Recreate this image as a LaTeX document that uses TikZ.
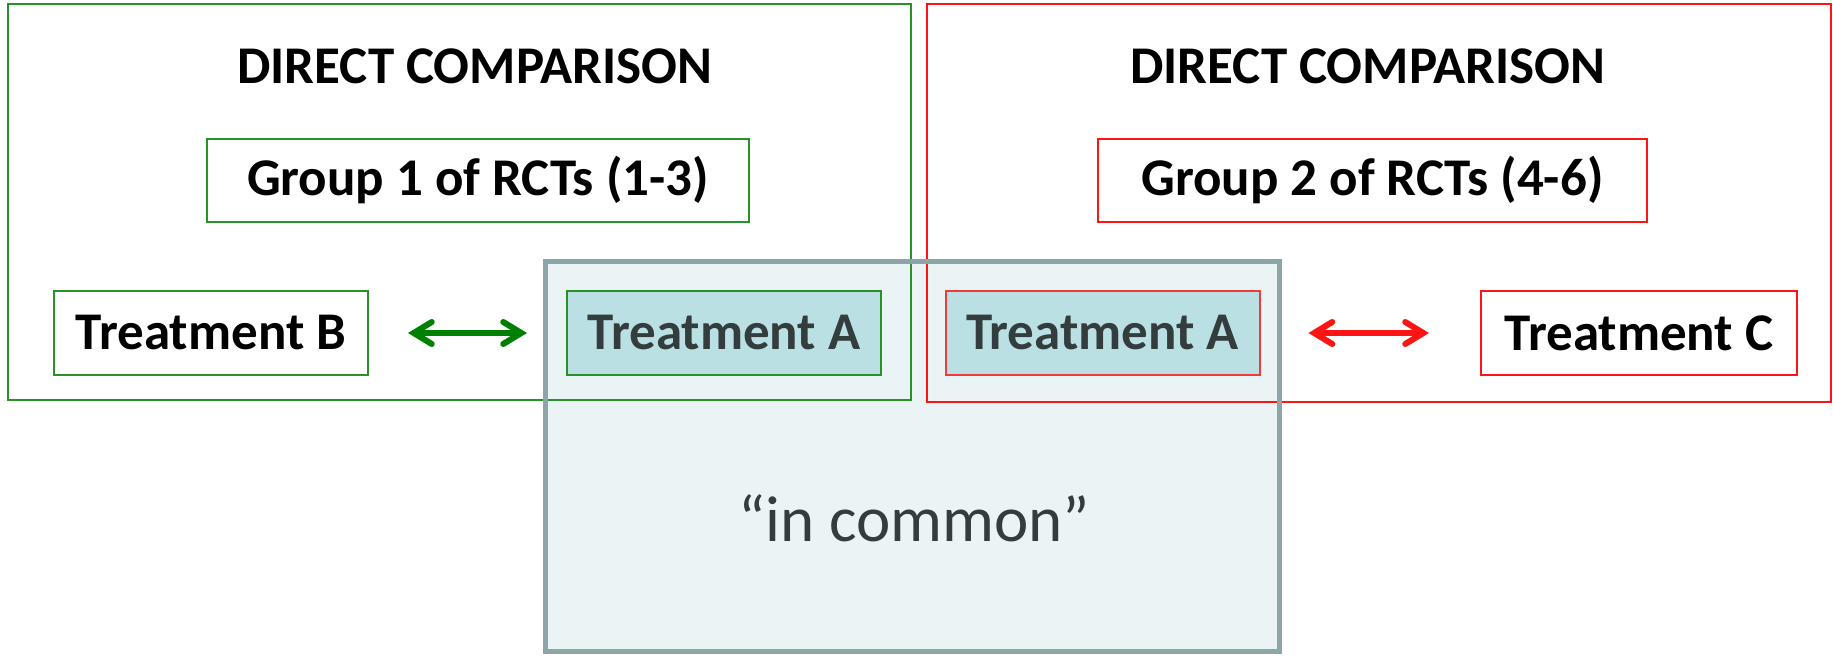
\documentclass[tikz,border=0pt]{standalone}
\usepackage{fontspec}
\setmainfont{Carlito}
\usetikzlibrary{arrows.meta}

\definecolor{boxgreen}{RGB}{40,145,40}
\definecolor{arrowgreen}{RGB}{0,128,0}
\definecolor{boxred}{RGB}{255,20,20}
\definecolor{softred}{RGB}{238,60,60}
\definecolor{commonedge}{RGB}{139,165,168}
\definecolor{commonfill}{RGB}{235,244,245}
\definecolor{trtfill}{RGB}{187,224,227}
\definecolor{darktext}{RGB}{51,61,62}

\tikzset{
  label font/.style={font=\fontsize{26.5}{31}\selectfont\bfseries},
  groupbox/.style={draw, line width=1pt, label font, inner sep=0pt,
    minimum height=41.5pt},
  trtbox/.style={draw, line width=1pt, label font, inner sep=0pt,
    minimum width=157pt, minimum height=42pt},
  shared/.style={trtbox, fill=trtfill, text=darktext},
  twoway/.style={{Straight Barb[length=9pt,width=11pt,line cap=round]}-{Straight Barb[length=9pt,width=11pt,line cap=round]},
    line width=3pt, line cap=round},
}

\begin{document}
\begin{tikzpicture}[x=0.5pt,y=-0.5pt]
\useasboundingbox (0,0) rectangle (1833,657);

% shared region behind the two comparison frames
\fill[commonfill] (545,262) rectangle (1279,652);

% comparison frames
\draw[boxgreen, line width=1pt] (8,4) rectangle (911,400);
\draw[boxred, line width=1pt] (927,4) rectangle (1831,402);

% outline of the shared region on top
\draw[commonedge, line width=2.5pt] (545,262) rectangle (1279,652);

% titles
\node[label font] (title1) at (475,66) {DIRECT COMPARISON};
\node[label font] (title2) at (1368,66) {DIRECT COMPARISON};

% groups of trials
\node[groupbox, boxgreen, text=black, minimum width=271pt] (grp1) at (478,180.5) {Group 1 of RCTs (1-3)};
\node[groupbox, boxred, text=black, minimum width=274.5pt] (grp2) at (1372.5,180.5) {Group 2 of RCTs (4-6)};

% treatments
\node[trtbox, boxgreen, text=black] (trtB) at (211,333) {Treatment B};
\node[shared, draw=boxgreen] (trtA1) at (724,333) {Treatment A};
\node[shared, draw=softred] (trtA2) at (1102.5,333) {Treatment A};
\node[trtbox, boxred, text=black, minimum width=158pt] (trtC) at (1639,333) {Treatment C};

% direct comparisons
\draw[twoway, arrowgreen, shorten <=19.5pt, shorten >=19.5pt] (trtB.east) -- (trtA1.west);
\draw[twoway, boxred, shorten <=24pt, shorten >=25.5pt] (trtA2.east) -- (trtC.west);

% caption of the shared region
\node[font=\fontsize{32.5}{38}\selectfont, text=darktext, anchor=base] (common) at (914,542) {“in common”};
\end{tikzpicture}
\end{document}
